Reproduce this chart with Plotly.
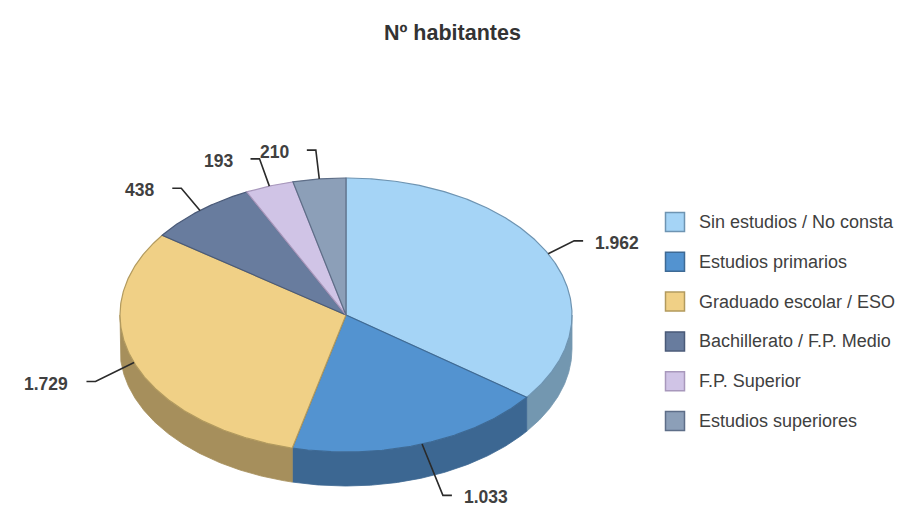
import numpy as np
import plotly.graph_objects as go

# ---- data ----
categories = ["Sin estudios / No consta", "Estudios primarios", "Graduado escolar / ESO",
              "Bachillerato / F.P. Medio", "F.P. Superior", "Estudios superiores"]
values = [1962, 1033, 1729, 438, 193, 210]
value_labels = ["1.962", "1.033", "1.729", "438", "193", "210"]
title_text = "Nº habitantes"

# ---- style ----
top_colors = ["#A5D4F6", "#5393D0", "#F0D086", "#687C9E", "#D0C4E6", "#8C9FB8"]
side_colors = ["#7397B0", "#3C6792", "#A68F5C", "#4E5E7A", "#9C92AE", "#67788C"]
edge_colors = ["#6E94B2", "#3E6A95", "#B29A5E", "#4A5A78", "#A898BC", "#5E6E88"]
text_color = "#404040"
W, H = 899, 510
cx, cy, rx, ry, depth = 346, 315, 226, 137, 34
lab_rx, lab_ry = 255, 166

fig = go.Figure()

total = float(sum(values))
starts = np.concatenate([[0.0], np.cumsum(values)[:-1]]) / total * 360.0
ends = np.cumsum(values) / total * 360.0


def pt(t_deg, dy=0.0, ax=rx, ay=ry):
    t = np.radians(t_deg)
    return cx + ax * np.sin(t), cy - ay * np.cos(t) + dy


def arc(a, b, dy=0.0):
    n = max(2, int(abs(b - a) * 2) + 2)
    ts = np.linspace(a, b, n)
    xs, ys = pt(ts, dy)
    return list(xs), list(ys)


# side faces (front half: 90..270 deg)
for i in range(len(values)):
    lo, hi = max(starts[i], 90.0), min(ends[i], 270.0)
    if hi <= lo:
        continue
    x1, y1 = arc(lo, hi)
    x2, y2 = arc(hi, lo, depth)
    fig.add_trace(go.Scatter(x=x1 + x2 + [x1[0]], y=y1 + y2 + [y1[0]], mode="lines",
                             fill="toself", fillcolor=side_colors[i],
                             line=dict(color=side_colors[i], width=0.8),
                             hoverinfo="skip", showlegend=False))

# top faces
for i in range(len(values)):
    xa, ya = arc(starts[i], ends[i])
    fig.add_trace(go.Scatter(x=[cx] + xa + [cx], y=[cy] + ya + [cy], mode="lines",
                             fill="toself", fillcolor=top_colors[i],
                             line=dict(color=edge_colors[i], width=1.2),
                             name=categories[i], hoverinfo="skip", showlegend=False))

# data labels with connectors
for i in range(len(values)):
    mid = (starts[i] + ends[i]) / 2.0
    ax_, ay_ = pt(mid)
    front = max(0.0, -np.cos(np.radians(mid)))
    ex, ey = pt(mid, depth * 0.75 * front, lab_rx + 35 * front, lab_ry)
    side = 1 if np.sin(np.radians(mid)) >= 0 else -1
    tx = ex + side * 9
    fig.add_trace(go.Scatter(x=[ax_, ex, tx], y=[ay_, ey, ey], mode="lines",
                             line=dict(color="#2a2a2a", width=1.6),
                             hoverinfo="skip", showlegend=False))
    gap = 10 if side > 0 else 16
    fig.add_annotation(x=tx + side * gap, y=ey + 2, text=value_labels[i], showarrow=False,
                       xanchor="left" if side > 0 else "right", yanchor="middle",
                       font=dict(family="Liberation Sans, Arial", size=17.5, color=text_color,
                                 weight="bold"))

# legend (drawn)
leg_x, leg_y0, leg_dy = 675, 222, 39.8
fig.add_trace(go.Scatter(x=[leg_x] * len(categories),
                         y=[leg_y0 + k * leg_dy for k in range(len(categories))],
                         mode="markers",
                         marker=dict(symbol="square", size=19, color=top_colors,
                                     line=dict(color=edge_colors, width=1.5)),
                         hoverinfo="skip", showlegend=False))
for k, name in enumerate(categories):
    fig.add_annotation(x=leg_x + 22, y=leg_y0 + k * leg_dy, text=name, showarrow=False,
                       xanchor="left", yanchor="middle",
                       font=dict(family="Liberation Sans, Arial", size=18, color=text_color))

fig.add_annotation(x=452, y=33, text="<b>" + title_text + "</b>", showarrow=False,
                   xanchor="center", yanchor="middle",
                   font=dict(family="Liberation Sans, Arial", size=21.5, color="#333333"))

fig.update_layout(width=W, height=H, autosize=False,
                  margin=dict(l=0, r=0, t=0, b=0),
                  paper_bgcolor="white", plot_bgcolor="white",
                  xaxis=dict(range=[0, W], visible=False, fixedrange=True),
                  yaxis=dict(range=[H, 0], visible=False, fixedrange=True),
                  showlegend=False)

fig.write_html("out.html", config={"displayModeBar": False},
               post_script="document.body.style.margin='0';document.body.style.overflow='hidden';")
